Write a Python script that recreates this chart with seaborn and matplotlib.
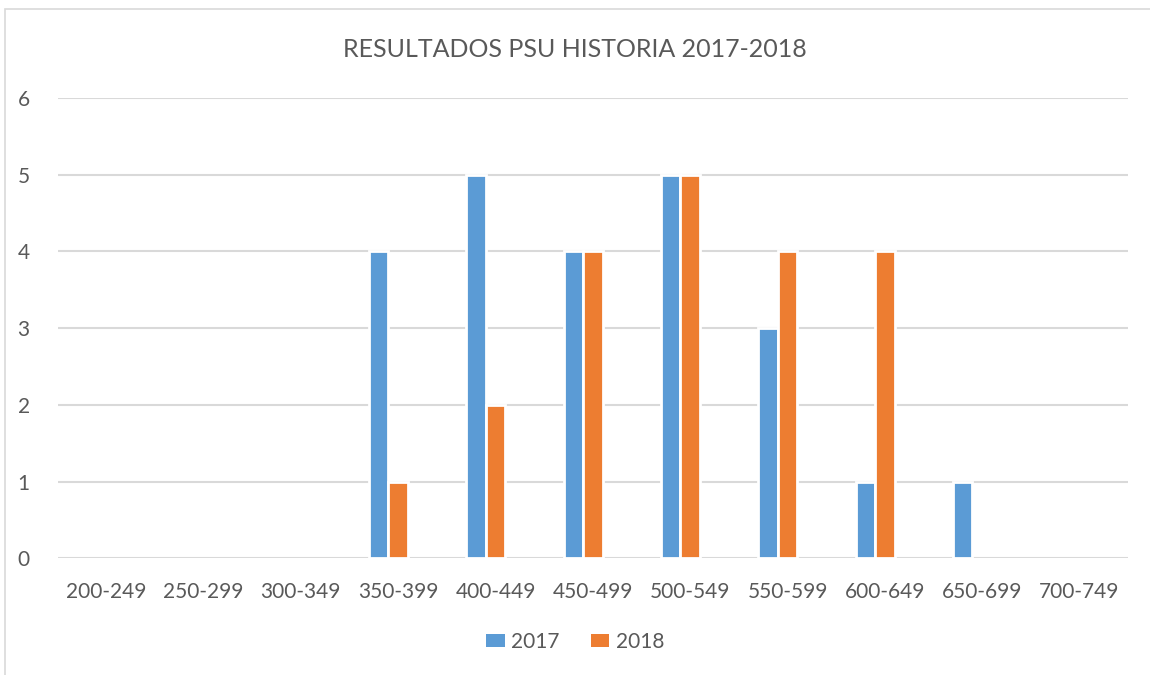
import pandas as pd
import matplotlib.pyplot as plt
import matplotlib.patches as mpatches
import seaborn as sns

# Data
rangos = ['200-249', '250-299', '300-349', '350-399', '400-449', '450-499',
          '500-549', '550-599', '600-649', '650-699', '700-749']
valores_2017 = [0, 0, 0, 4, 5, 4, 5, 3, 1, 1, 0]
valores_2018 = [0, 0, 0, 1, 2, 4, 5, 4, 4, 0, 0]

df = pd.DataFrame({
    'Rango': rangos * 2,
    'Valor': valores_2017 + valores_2018,
    'Año': ['2017'] * len(rangos) + ['2018'] * len(rangos),
})

sns.set_style('white')
plt.rcParams['font.family'] = ['Lato', 'DejaVu Sans']

fig = plt.figure(figsize=(11.5, 6.75), dpi=100)
ax = fig.add_axes([0.050, 0.173, 0.931, 0.682])

# the original Excel chart keeps a slot for an empty third series
sns.barplot(data=df, x='Rango', y='Valor', hue='Año',
            hue_order=['2017', '2018', ' '],
            palette={'2017': '#5B9BD5', '2018': '#ED7D31', ' ': 'white'},
            width=0.6, edgecolor='white', linewidth=2, saturation=1,
            ax=ax, zorder=3)

# hide empty bars so their white edge doesn't cut the baseline
for p in ax.patches:
    if p.get_height() == 0:
        p.set_visible(False)

ax.set_ylim(0, 6)
ax.set_xlim(-0.5, len(rangos) - 0.5)
ax.set_yticks(range(0, 7))
ax.grid(axis='y', color='#D9D9D9', linewidth=1.5, zorder=0)
ax.set_axisbelow(True)
for s in ax.spines.values():
    s.set_visible(False)
ax.tick_params(axis='both', length=0, labelsize=15, labelcolor='#595959')
ax.tick_params(axis='x', pad=17)
ax.tick_params(axis='y', pad=20)
ax.set_xlabel('')
ax.set_ylabel('')

fig.text(0.5, 0.926, 'RESULTADOS PSU HISTORIA 2017-2018', ha='center',
         va='center', fontsize=18, color='#595959')

colores = {'2017': '#5B9BD5', '2018': '#ED7D31'}
handles = [mpatches.Patch(facecolor=c, edgecolor='none') for c in colores.values()]
ax.legend(handles, list(colores.keys()), loc='center',
          bbox_to_anchor=(0.5, 0.049), bbox_transform=fig.transFigure,
          ncol=2, frameon=False, fontsize=15, labelcolor='#595959',
          handlelength=0.9, handleheight=0.6, handletextpad=0.3,
          columnspacing=1.5)

# Chart area border
fig.patches.append(mpatches.Rectangle((5 / 1150, -0.05), 1.2, 1 - 9 / 675 + 0.05,
                                      transform=fig.transFigure, fill=False,
                                      edgecolor='#D9D9D9', linewidth=1.2))

fig.savefig('out.png', dpi=100)
